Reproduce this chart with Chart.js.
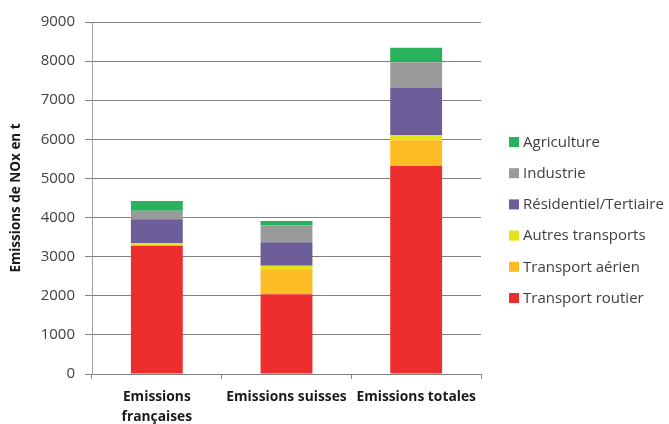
<!DOCTYPE html>
<html>
<head>
<meta charset="utf-8">
<script src="https://cdn.jsdelivr.net/npm/chart.js@4.4.1/dist/chart.umd.min.js"></script>
<style>
  html, body { margin: 0; padding: 0; background: #fff; }
  #wrap { width: 669px; height: 424px; }
</style>
</head>
<body>
<div id="wrap"><canvas id="c" width="669" height="424"></canvas></div>
<script>
// Categories (x axis)
const categories = [["Emissions", "françaises"], "Emissions suisses", "Emissions totales"];

// NOx emissions per sector, in tonnes
const transportRoutier   = [3280, 2040, 5320];
const transportAerien    = [15, 640, 655];
const autresTransports   = [50, 85, 135];
const residentiel        = [610, 605, 1215];
const industrie          = [220, 425, 645];
const agriculture        = [250, 120, 370];

const seriesNames = ["Transport routier", "Transport aérien", "Autres transports",
                     "Résidentiel/Tertiaire", "Industrie", "Agriculture"];
const seriesColors = ["#ED2E2F", "#FDBB24", "#E4E41A", "#6D5D98", "#999B9B", "#27B25B"];

const yTitle = "Emissions de NOx en t";

const seriesData = [transportRoutier, transportAerien, autresTransports, residentiel, industrie, agriculture];

const datasets = seriesData.map((d, i) => ({
  label: seriesNames[i],
  data: d,
  backgroundColor: seriesColors[i],
  borderWidth: 0,
  categoryPercentage: 0.4,
  barPercentage: 1.0
}));

// Legend on the right, top entry = last stacked series
const sideLegend = {
  id: 'sideLegend',
  afterDraw(chart) {
    const ctx = chart.ctx;
    const ds = chart.data.datasets;
    ctx.save();
    ctx.font = '15px "Open Sans"';
    ctx.textBaseline = 'middle';
    const x0 = 509, y0 = 142, step = 31.2;
    for (let k = 0; k < ds.length; k++) {
      const d = ds[ds.length - 1 - k];
      const y = y0 + k * step;
      ctx.fillStyle = d.backgroundColor;
      ctx.fillRect(x0, y - 5, 10, 10);
      ctx.fillStyle = '#404040';
      ctx.fillText(d.label, x0 + 14, y + 0.5);
    }
    ctx.restore();
  }
};

new Chart(document.getElementById('c'), {
  type: 'bar',
  data: { labels: categories, datasets },
  options: {
    responsive: false,
    animation: false,
    layout: { padding: { left: 8, right: 188, top: 22, bottom: 0 } },
    plugins: { legend: { display: false }, tooltip: { enabled: false } },
    scales: {
      x: {
        stacked: true,
        grid: { display: true, drawOnChartArea: false, drawTicks: true, tickLength: 5, color: '#8a8a8a' },
        border: { display: true, color: '#808080', width: 1 },
        ticks: {
          color: '#1a1a1a',
          font: { family: '"Open Sans"', size: 13.8, weight: 'bold', lineHeight: 1.45 },
          padding: 8,
          maxRotation: 0, autoSkip: false
        },
        afterFit(scale) { scale.height = 50; }
      },
      y: {
        stacked: true,
        min: 0, max: 9000,
        ticks: {
          stepSize: 1000,
          color: '#404040',
          font: { family: '"Open Sans"', size: 15 },
          padding: 10,
          callback: (v) => String(v)
        },
        grid: { color: '#808080', lineWidth: 1, tickLength: 7, drawTicks: true },
        border: { display: true, color: '#a0a0a0', width: 1 },
        title: {
          display: true,
          text: yTitle,
          color: '#1a1a1a',
          font: { family: '"Open Sans"', size: 13.5, weight: 'bold' },
          padding: { top: 0, bottom: 6 }
        },
        afterFit(scale) { scale.width = 84; }
      }
    }
  },
  plugins: [sideLegend]
});
</script>
</body>
</html>
